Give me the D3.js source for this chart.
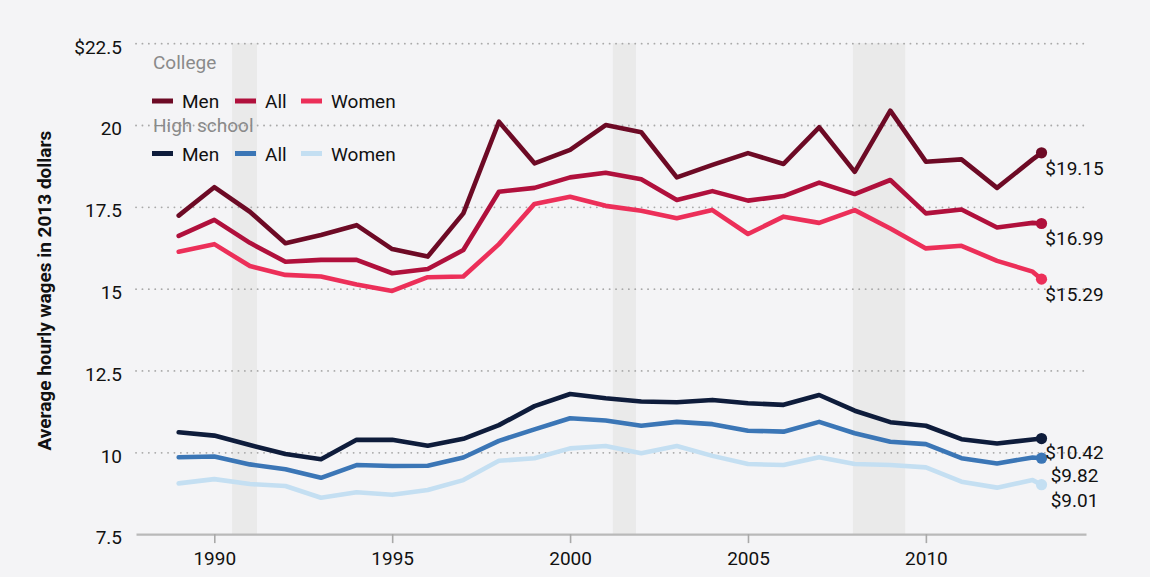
<!DOCTYPE html>
<html>
<head>
<meta charset="utf-8">
<script src="https://cdn.jsdelivr.net/npm/d3@7"></script>
<style>
  html, body { margin: 0; padding: 0; background: #f4f4f6; }
  svg { display: block; font-family: Roboto, "Open Sans", sans-serif; }
</style>
</head>
<body>
<script>
// ---------- DATA ----------
const years = [1989,1990,1991,1992,1993,1994,1995,1996,1997,1998,1999,2000,2001,2002,2003,2004,2005,2006,2007,2008,2009,2010,2011,2012,2013];
const collegeMen   = [17.23,18.10,17.35,16.39,16.64,16.94,16.21,15.98,17.30,20.10,18.83,19.24,20.00,19.78,18.40,18.78,19.14,18.81,19.93,18.57,20.44,18.88,18.95,18.08,18.95];
const collegeAll   = [16.61,17.10,16.40,15.82,15.88,15.88,15.47,15.60,16.18,17.96,18.08,18.40,18.54,18.34,17.71,17.98,17.69,17.83,18.24,17.89,18.32,17.30,17.42,16.87,17.01];
const collegeWomen = [16.13,16.36,15.69,15.42,15.37,15.13,14.93,15.35,15.37,16.36,17.59,17.81,17.53,17.38,17.15,17.40,16.67,17.20,17.01,17.40,16.84,16.23,16.31,15.85,15.52];
const hsMen        = [10.61,10.51,10.22,9.95,9.79,10.38,10.38,10.20,10.41,10.83,11.41,11.78,11.65,11.55,11.53,11.60,11.50,11.45,11.75,11.27,10.92,10.81,10.40,10.27,10.39];
const hsAll        = [9.85,9.87,9.63,9.48,9.22,9.61,9.58,9.59,9.84,10.35,10.70,11.04,10.97,10.81,10.93,10.86,10.66,10.63,10.93,10.58,10.32,10.25,9.82,9.66,9.84];
const hsWomen      = [9.05,9.18,9.03,8.97,8.61,8.78,8.70,8.85,9.15,9.74,9.82,10.12,10.19,9.97,10.19,9.89,9.64,9.61,9.85,9.64,9.61,9.54,9.10,8.92,9.15];

const endYear = 2013.25;
const endValues = [19.15, 16.99, 15.29, 10.42, 9.82, 9.01];
const endLabels = ["$19.15", "$16.99", "$15.29", "$10.42", "$9.82", "$9.01"];

const seriesNames = ["Men", "All", "Women", "Men", "All", "Women"];
const seriesGroups = ["College", "College", "College", "High school", "High school", "High school"];
const seriesValues = [collegeMen, collegeAll, collegeWomen, hsMen, hsAll, hsWomen];
const seriesColors = ["#6d0a25", "#b0103c", "#ec2f59", "#0e1c3b", "#3b76b6", "#c4dff2"];

const recessions = [[1990.5, 1991.2], [2001.2, 2001.85], [2007.95, 2009.42]];

const yTicks = [7.5, 10, 12.5, 15, 17.5, 20, 22.5];
const yTickLabels = ["7.5", "10", "12.5", "15", "17.5", "20", "$22.5"];
const xTicks = [1990, 1995, 2000, 2005, 2010];
const yTitle = "Average hourly wages in 2013 dollars";

// ---------- LAYOUT ----------
const W = 1150, H = 577;
const plotL = 136, plotR = 1086, plotT = 43.2, plotB = 534.1;
const FONT = "Roboto, 'Open Sans', sans-serif";
const FS = 19;

const x = d3.scaleLinear().domain([1987.8, 2014.5]).range([plotL, plotR]);
const y = d3.scaleLinear().domain([7.5, 22.5]).range([plotB, plotT]);

const svg = d3.select("body").append("svg").attr("width", W).attr("height", H);
svg.append("rect").attr("width", W).attr("height", H).attr("fill", "#f4f4f6");

// recession bands
svg.append("g").selectAll("rect").data(recessions).join("rect")
  .attr("x", d => x(d[0]))
  .attr("width", d => x(d[1]) - x(d[0]))
  .attr("y", y(22.5))
  .attr("height", y(7.5) - y(22.5))
  .attr("fill", "#eaeaea");

// y axis + gridlines
const yAxis = svg.append("g").attr("transform", `translate(${plotL},0)`)
  .call(d3.axisLeft(y).tickValues(yTicks)
    .tickFormat((d, i) => yTickLabels[i])
    .tickSize(-(plotR - plotL)).tickPadding(14));
yAxis.select(".domain").remove();
yAxis.selectAll(".tick line")
  .attr("stroke", "#a9a9a9").attr("stroke-width", 1.8)
  .attr("stroke-linecap", "round").attr("stroke-dasharray", "0.1,6.3")
  .attr("display", d => d === 7.5 ? "none" : null);
yAxis.selectAll(".tick text")
  .attr("fill", "#111").attr("font-size", FS).attr("dy", "0.52em")
  .attr("font-family", FONT);

// x axis
const xAxis = svg.append("g").attr("transform", `translate(0,${plotB})`)
  .call(d3.axisBottom(x).tickValues(xTicks).tickFormat(d3.format("d"))
    .tickSize(9).tickSizeOuter(0).tickPadding(8));
xAxis.select(".domain").attr("stroke", "#b9b9b9").attr("stroke-width", 2.2);
xAxis.selectAll(".tick line").attr("stroke", "#a9a9a9").attr("stroke-width", 1.6);
xAxis.selectAll(".tick text")
  .attr("fill", "#111").attr("font-size", FS)
  .attr("font-family", FONT);

// y title
svg.append("text")
  .attr("transform", `translate(51,${(plotT + plotB) / 2 + 2}) rotate(-90)`)
  .attr("text-anchor", "middle")
  .attr("font-size", 19).attr("font-weight", "bold").attr("fill", "#111")
  .text(yTitle);

// lines
const line = d3.line().x(d => x(d[0])).y(d => y(d[1])).curve(d3.curveLinear);
const labelNudge = [0, 0, 0, -1.5, 1.5, 0];
const series = seriesValues.map((vals, i) => ({
  color: seriesColors[i],
  pts: years.map((yr, j) => [yr, vals[j]]).concat([[endYear, endValues[i]]]),
  end: [endYear, endValues[i]],
  label: endLabels[i],
  nudge: labelNudge[i]
}));

const lg = svg.append("g");
lg.selectAll("path").data(series).join("path")
  .attr("d", d => line(d.pts))
  .attr("fill", "none").attr("stroke", d => d.color)
  .attr("stroke-width", 4.6).attr("stroke-linejoin", "round").attr("stroke-linecap", "round");

lg.selectAll("circle").data(series).join("circle")
  .attr("cx", d => x(d.end[0])).attr("cy", d => y(d.end[1]))
  .attr("r", 5.6).attr("fill", d => d.color);

lg.selectAll("text").data(series).join("text")
  .attr("x", d => x(d.end[0]) + 33)
  .attr("y", d => y(d.end[1]) + 15 + d.nudge)
  .attr("dy", "0.36em")
  .attr("text-anchor", "middle")
  .attr("font-size", FS).attr("fill", "#111")
  .text(d => d.label);

// legend
const legendGroupTitles = ["College", "High school"];
const legendTitleY = [69, 131.5];
const legendRowY = [101, 153.5];
const legendItemX = [152, 235, 301];
const leg = svg.append("g");
legendGroupTitles.forEach((g, gi) => {
  leg.append("text").attr("x", 153).attr("y", legendTitleY[gi])
    .attr("font-size", FS).attr("fill", "#8a8a8a").text(g);
  const idx = seriesGroups.map((s, i) => s === g ? i : -1).filter(i => i >= 0);
  idx.forEach((si, k) => {
    const gx = legendItemX[k];
    leg.append("line")
      .attr("x1", gx).attr("x2", gx + 21)
      .attr("y1", legendRowY[gi]).attr("y2", legendRowY[gi])
      .attr("stroke", seriesColors[si]).attr("stroke-width", 5);
    leg.append("text").attr("x", gx + 30).attr("y", legendRowY[gi] + 7)
      .attr("font-size", FS).attr("fill", "#111").text(seriesNames[si]);
  });
});
</script>
</body>
</html>
